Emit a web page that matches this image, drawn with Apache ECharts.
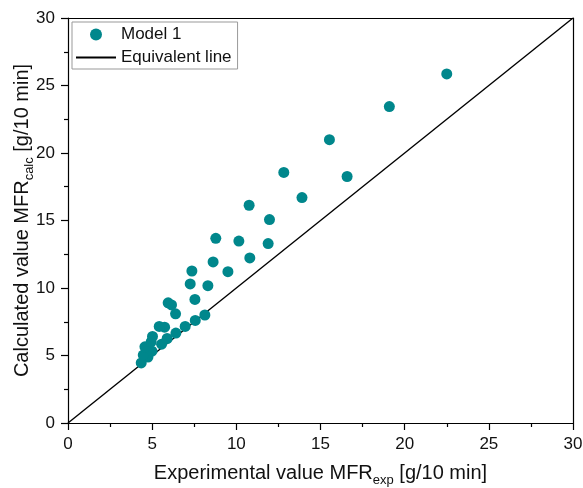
<!DOCTYPE html>
<html>
<head>
<meta charset="utf-8">
<script src="https://cdn.jsdelivr.net/npm/echarts@6/dist/echarts.min.js"></script>
<style>
  html, body { margin: 0; padding: 0; background: #fff; }
  #chart { width: 583px; height: 488px; }
</style>
</head>
<body>
<div id="chart"></div>
<script>
// experimental vs calculated MFR
const expValues = [4.35, 4.75, 4.47, 4.99, 4.57, 5.56, 4.94, 5.89, 5.02, 6.41, 5.74, 5.42, 6.96, 7.56, 8.13, 6.39, 5.95, 6.15, 7.54, 8.31, 7.26, 7.36, 9.5, 8.62, 10.8, 11.89, 10.15, 8.78, 11.97, 10.76, 13.9, 16.58, 12.82, 15.53, 19.09, 22.5];
const calcValues = [4.45, 4.88, 5.03, 5.32, 5.64, 5.84, 6.01, 6.26, 6.41, 6.66, 7.1, 7.15, 7.15, 7.6, 8.0, 8.09, 8.9, 8.75, 9.15, 10.17, 10.3, 11.26, 11.21, 11.93, 12.23, 13.29, 13.48, 13.68, 15.07, 16.13, 16.7, 18.26, 18.56, 20.99, 23.44, 25.86];
const lineX = [0, 30];
const lineY = [0, 30];

const FONT = 'Liberation Sans, Arial, sans-serif';
const TEAL = '#00878c';

const chart = echarts.init(document.getElementById('chart'));

const axisCommon = {
  type: 'value',
  min: 0,
  max: 30,
  interval: 5,
  nameLocation: 'middle',
  nameMoveOverlap: false,
  axisLine: { show: true, onZero: false, lineStyle: { color: '#000', width: 1.2 } },
  axisTick: { show: true, inside: false, length: 7, lineStyle: { color: '#000', width: 1.2 } },
  minorTick: { show: true, splitNumber: 2, length: 4, lineStyle: { color: '#000', width: 1.2 } },
  splitLine: { show: false },
  axisLabel: { color: '#111', fontFamily: FONT, fontSize: 17, margin: 13 },
};

const frameAxis = {
  type: 'value',
  min: 0,
  max: 30,
  axisLine: { show: true, onZero: false, lineStyle: { color: '#000', width: 1.2 } },
  axisTick: { show: false },
  axisLabel: { show: false },
  splitLine: { show: false },
};

const nameStyle = {
  color: '#111', fontFamily: FONT, fontSize: 20,
  rich: { sub: { fontFamily: FONT, fontSize: 13, color: '#111', padding: [14, 0, 0, 0] } },
};

chart.setOption({
  animation: false,
  backgroundColor: '#fff',
  grid: { left: 68, right: 10, top: 18, bottom: 65, containLabel: false, outerBoundsMode: 'none' },
  xAxis: [
    Object.assign({}, axisCommon, {
      name: 'Experimental value MFR{sub|exp} [g/10 min]',
      nameGap: 37,
      nameTextStyle: nameStyle,
    }),
    Object.assign({}, frameAxis, { position: 'top' }),
  ],
  yAxis: [
    Object.assign({}, axisCommon, {
      name: 'Calculated value MFR{sub|calc} [g/10 min]',
      nameGap: 32,
      nameTextStyle: nameStyle,
    }),
    Object.assign({}, frameAxis, { position: 'right' }),
  ],
  legend: {
    orient: 'vertical',
    left: 72,
    top: 22,
    padding: [4, 6, 3, 3],
    itemGap: 6,
    itemWidth: 40,
    itemHeight: 12,
    borderColor: '#999',
    borderWidth: 1,
    borderRadius: 0,
    textStyle: { color: '#111', fontFamily: FONT, fontSize: 17 },
    data: [
      { name: 'Model 1', icon: 'circle', itemStyle: { color: TEAL } },
      { name: 'Equivalent line', itemStyle: { opacity: 0 } },
    ],
  },
  series: [
    {
      name: 'Equivalent line',
      type: 'line',
      data: lineX.map((x, i) => [x, lineY[i]]),
      symbol: 'none',
      lineStyle: { color: '#000', width: 1.4 },
      itemStyle: { color: '#000' },
      z: 1,
    },
    {
      name: 'Model 1',
      type: 'scatter',
      data: expValues.map((x, i) => [x, calcValues[i]]),
      symbolSize: 11,
      itemStyle: { color: TEAL, opacity: 1 },
      z: 2,
    },
  ],
});
</script>
</body>
</html>
